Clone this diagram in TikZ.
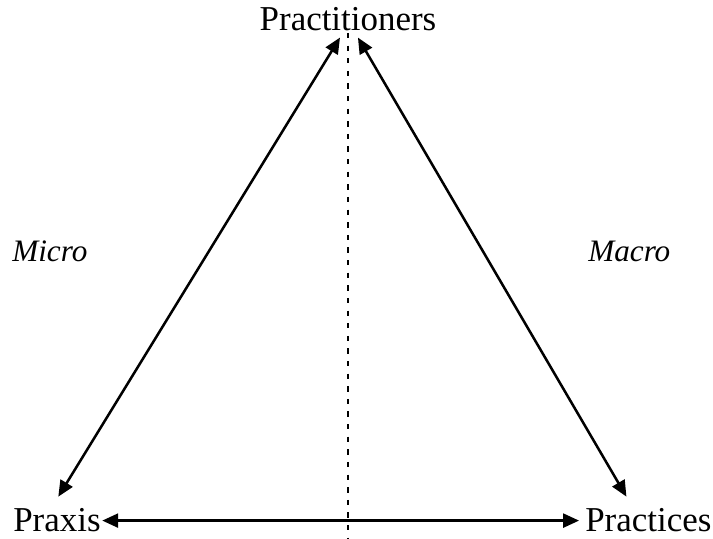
\documentclass[tikz,border=0pt]{standalone}
\usepackage{fontspec}
\setmainfont{Liberation Serif}
\usepackage{tikz}
\usetikzlibrary{arrows.meta}
\pgfdeclarelayer{edgelayer}
\pgfdeclarelayer{nodelayer}
\pgfsetlayers{edgelayer,nodelayer,main}
\tikzstyle{term}=[font=\fontsize{26.3}{31}\selectfont, inner sep=1pt]
\tikzstyle{side}=[font=\fontsize{23.5}{28}\selectfont\itshape, inner sep=1pt]
\tikzstyle{link}=[draw=black, line width=1.9pt, >={Triangle[length=12pt,width=10.5pt]}, <->]
\tikzstyle{split}=[draw=black, line width=1.3pt, dash pattern=on 4pt off 5.5pt]

\begin{document}
\begin{tikzpicture}
				\useasboundingbox (0, 0) rectangle (18.865, 14.261);
				\begin{pgfonlayer}{nodelayer}
					\node [style=term, anchor=base] (1) at (9.207, 13.441) {Practitioners};
					\node [style=term, anchor=base west] (2) at (0.31, 0.185) {Praxis};
					\node [style=term, anchor=base east] (3) at (18.865, 0.185) {Practices};
					\node [style=side, anchor=base west] (4) at (0.283, 7.355) {Micro};
					\node [style=side, anchor=base west] (5) at (15.523, 7.355) {Macro};
					\coordinate (6) at (9.207, 0);
				\end{pgfonlayer}
				\begin{pgfonlayer}{edgelayer}
					\draw [style=link] ([xshift=-6pt, yshift=-3.5pt]1.south) to ([xshift=1pt, yshift=8pt]2.north);
					\draw [style=link] ([xshift=7.5pt, yshift=-3.5pt]1.south) to ([xshift=-16.5pt, yshift=8pt]3.north);
					\draw [style=link] (2.east) to ([xshift=-3.5pt]3.west);
					\draw [style=split] (1.south) to (6);
				\end{pgfonlayer}
			\end{tikzpicture}
\end{document}
